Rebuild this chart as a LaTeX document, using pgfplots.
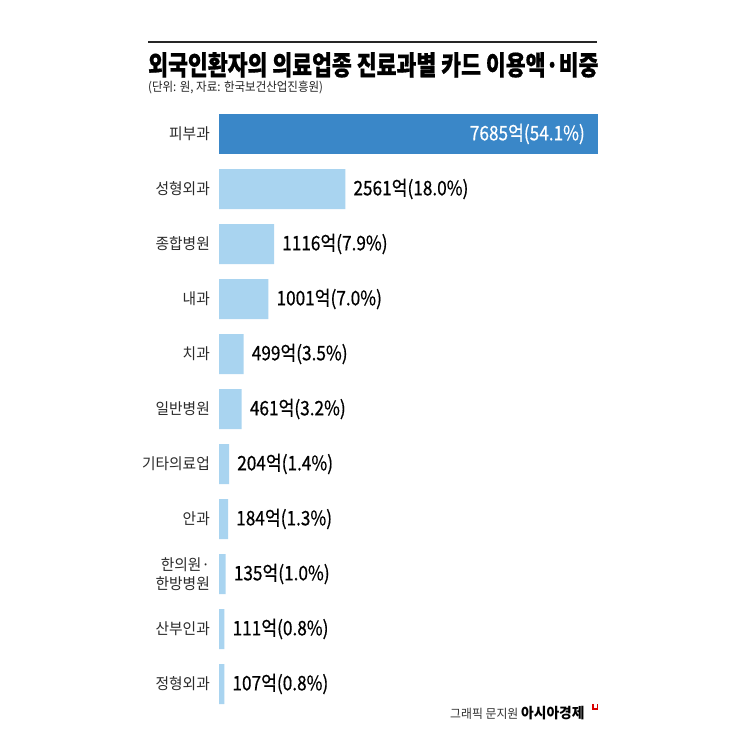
\documentclass[border=0pt]{standalone}
\usepackage{pgfplots}
\pgfplotsset{compat=1.18}
\usepackage{fontspec}
\setmainfont{Noto Sans CJK KR}
\newfontfamily\titlefont[FakeStretch=0.80, FakeBold=0.6]{Noto Sans CJK KR}
\newfontfamily\subfont[FakeStretch=0.92]{Noto Sans CJK KR}
\newfontfamily\catfont[FakeStretch=0.95]{Noto Sans CJK KR}
\newfontfamily\valfont[FakeStretch=0.86, FakeBold=0.5]{Noto Sans CJK KR}
\definecolor{darkbar}{HTML}{3A87C8}
\definecolor{lightbar}{HTML}{A9D4F0}
\definecolor{cattext}{HTML}{2B2B2B}
\begin{document}
\begin{tikzpicture}[x=1pt,y=1pt]
\useasboundingbox (0,0) rectangle (745,745);
\fill[white] (0,0) rectangle (745,745);
\draw[line width=2pt, black!85] (148,703) -- (597,703);
\node[anchor=base west, inner sep=0pt] at (148,670) {\titlefont\fontsize{27}{30}\selectfont\bfseries 외국인환자의 의료업종 진료과별 카드 이용액·비중};
\node[anchor=base west, inner sep=0pt, text=black!85] at (148,653) {\subfont\fontsize{12.5}{14}\selectfont (단위: 원, 자료: 한국보건산업진흥원)};
\node[anchor=base west, inner sep=0pt, text=black!80] at (450,27) {\catfont\fontsize{12.5}{14}\selectfont 그래픽 문지원};
\node[anchor=base west, inner sep=0pt, text=black] at (521,27) {\catfont\fontsize{14.5}{16}\selectfont\bfseries 아시아경제};
\draw[red!85!black, line width=1.3pt] (593,41) -- (593,36) -- (597.5,36) -- (597.5,41);
\begin{axis}[
  at={(219pt,33.5pt)}, anchor=south west,
  scale only axis, width=379pt, height=605pt,
  xbar, bar width=40pt,
  xmin=0, xmax=7685, ymin=-0.5, ymax=10.5,
  y dir=reverse,
  axis x line=none,
  axis y line*=left,
  y axis line style={draw=none},
  major tick length=0pt,
  ytick={0,...,10},
  yticklabels={피부과,성형외과,종합병원,내과,치과,일반병원,기타의료업,안과,{한의원·\\한방병원},산부인과,정형외과},
  yticklabel style={font=\catfont\fontsize{15.5}{19}\selectfont, text=cattext, align=right, inner sep=0pt, anchor=east, xshift=-9pt},
  point meta=explicit symbolic,
  nodes near coords,
  every node near coord/.append style={font=\valfont\fontsize{20}{22}\selectfont, inner sep=0pt},
  clip=false,
]
\addplot[fill=darkbar, draw=none, bar shift=0pt,
  every node near coord/.append style={anchor=east, xshift=-13pt, text=white}]
  coordinates {(7685,0) [7685억(54.1\%)]};
\addplot[fill=lightbar, draw=none, bar shift=0pt,
  every node near coord/.append style={anchor=west, xshift=8pt, text=black}]
  coordinates {
  (2561,1) [2561억(18.0\%)]
  (1116,2) [1116억(7.9\%)]
  (1001,3) [1001억(7.0\%)]
  (499,4) [499억(3.5\%)]
  (461,5) [461억(3.2\%)]
  (204,6) [204억(1.4\%)]
  (184,7) [184억(1.3\%)]
  (135,8) [135억(1.0\%)]
  (111,9) [111억(0.8\%)]
  (107,10) [107억(0.8\%)]
  };
\end{axis}
\end{tikzpicture}
\end{document}
